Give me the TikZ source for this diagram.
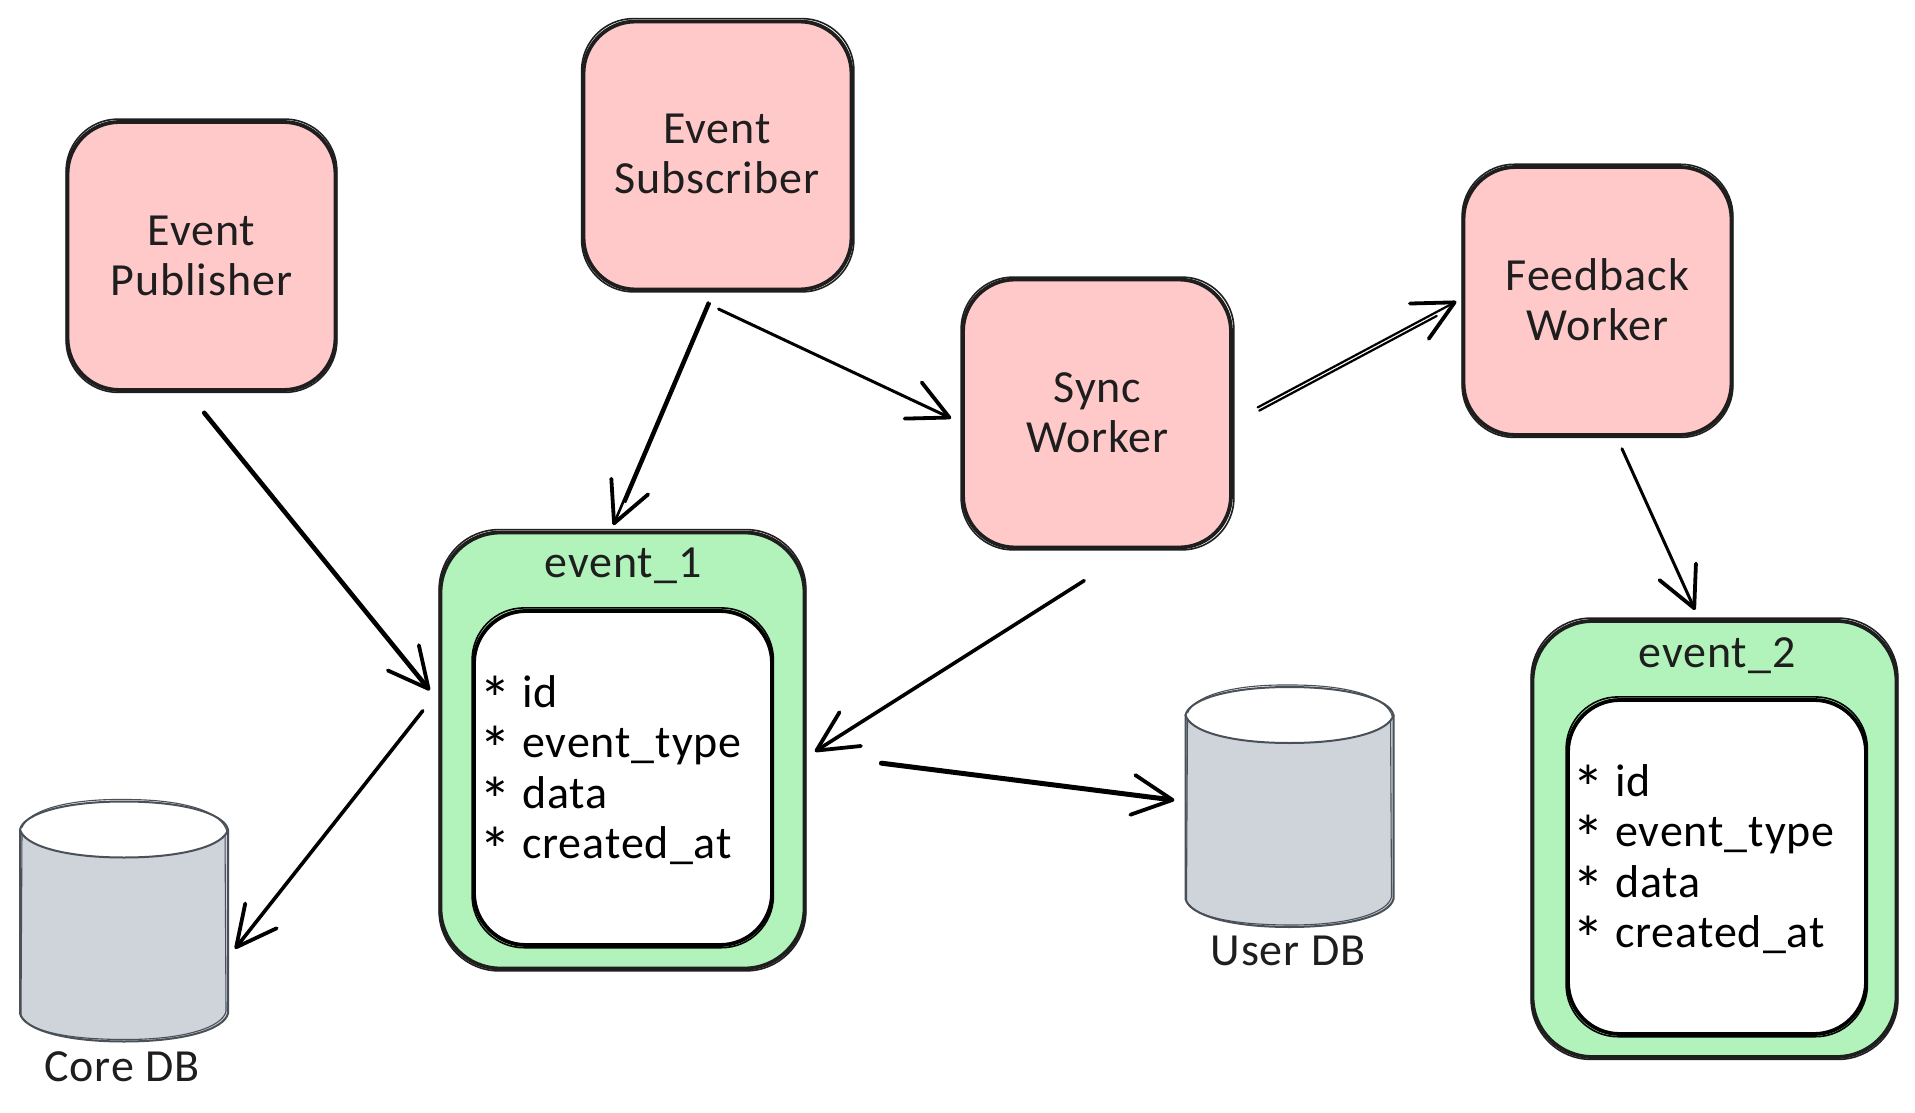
\documentclass[tikz,border=0pt]{standalone}
\usepackage{fontspec}
\setmainfont[LetterSpace=2]{Carlito}
\usetikzlibrary{arrows.meta}
\definecolor{ink}{HTML}{1E1E1E}
\definecolor{pinkfill}{HTML}{FFC9C9}
\definecolor{greenfill}{HTML}{B2F2BB}
\definecolor{dbfill}{HTML}{CED4DA}
\definecolor{dbline}{HTML}{495057}
\tikzset{
  x=1pt,y=-1pt,
  handtext/.style={font=\fontsize{46}{50.5}\selectfont,text=ink,align=center,inner sep=0pt},
  service/.style={rectangle,rounded corners=52pt,draw=ink,line width=3.8pt,fill=pinkfill,minimum width=268pt,minimum height=268pt,inner sep=0pt},
  topic/.style={rectangle,rounded corners=60pt,draw=ink,line width=3.8pt,fill=greenfill,minimum width=364pt,minimum height=436pt,inner sep=0pt},
  fieldbox/.style={rectangle,rounded corners=52pt,draw=black,line width=3.8pt,fill=white,minimum width=298pt,minimum height=334pt,inner sep=0pt},
  fieldtext/.style={handtext,text=black,align=left},
  dbanchor/.style={rectangle,inner sep=0pt,minimum width=208pt,minimum height=240pt},
  arrowline/.style={draw=black,line cap=round,line join=round,-{Straight Barb[length=40pt,width=40pt,line width=3.8pt,round]}},
  secondstroke/.style={draw=black,line cap=round},
  wobble/.style={draw=ink,line width=1.6pt,rounded corners=#1,fill=none},
}
\newcommand{\starmark}{\makebox[43pt][l]{\smash{\fontsize{64}{50}\selectfont\raisebox{-14pt}{*}}}}
\newcommand{\fieldlist}{\starmark id\\\starmark event\_type\\\starmark data\\\starmark created\_at}
\newcommand{\cylinderat}[1]{%
  \begin{scope}[shift={(#1.center)}]
    \fill[dbfill] (-104,-92) -- (-104,92) .. controls (-100,108) and (-60,120) .. (0,120) .. controls (60,120) and (100,108) .. (104,92) -- (104,-92) -- cycle;
    \draw[dbline,line width=2pt,line join=round] (-104,-92) -- (-104,92) .. controls (-100,108) and (-60,120) .. (0,120) .. controls (60,120) and (100,108) .. (104,92) -- (104,-92);
    \draw[dbline,line width=1.1pt] (-102,-90) -- (-103,94) .. controls (-96,109) and (-60,118) .. (2,118) .. controls (60,118) and (98,106) .. (102,90) -- (101,-94);
    \draw[dbline,line width=2pt,fill=white] (-104,-92) .. controls (-100,-108) and (-60,-120) .. (0,-120) .. controls (60,-120) and (100,-108) .. (104,-92) .. controls (100,-76) and (60,-64) .. (0,-64) .. controls (-60,-64) and (-100,-76) .. (-104,-92) -- cycle;
    \draw[dbline,line width=1.1pt] (-102,-94) .. controls (-96,-110) and (-60,-123) .. (2,-122) .. controls (60,-122) and (98,-110) .. (103,-90);
  \end{scope}}
\begin{document}
\begin{tikzpicture}
  \useasboundingbox (0,0) rectangle (1915,1113);
  % services
  \node[service] (pub) at (201.5,256) {};
  \node[service] (sub) at (717.5,155.5) {};
  \node[service] (sync) at (1097,413.5) {};
  \node[service] (feed) at (1597.5,301) {};
  \node[handtext] (pubtext) at (201.5,255.8) {Event\\Publisher};
  \node[handtext] (subtext) at (717,153.7) {Event\\Subscriber};
  \node[handtext] (synctext) at (1097.5,412.8) {Sync\\Worker};
  \node[handtext] (feedtext) at (1597.5,299.8) {Feedback\\Worker};
  \draw[wobble=52pt] ([shift={(0.5,-1)}]pub.north west) rectangle ([shift={(-0.5,0.5)}]pub.south east);
  \draw[wobble=52pt] ([shift={(0,-1)}]sub.north west) rectangle ([shift={(0.5,0.5)}]sub.south east);
  \draw[wobble=52pt] ([shift={(0,-0.5)}]sync.north west) rectangle ([shift={(1,0.5)}]sync.south east);
  \draw[wobble=52pt] ([shift={(0.5,-0.8)}]feed.north west) rectangle ([shift={(-0.5,0.5)}]feed.south east);
  % topics
  \node[topic] (evone) at (622.5,750.5) {};
  \node[fieldbox] (evonebox) at (623,778) {};
  \node[handtext] (evonetitle) at (623,566) {event\_1};
  \node[fieldtext,anchor=west] (evonefields) at (479,770) {\fieldlist};
  \node[topic] (evtwo) at (1714.5,839) {};
  \node[fieldbox] (evtwobox) at (1717,867) {};
  \node[handtext] (evtwotitle) at (1717,656) {event\_2};
  \node[fieldtext,anchor=west] (evtwofields) at (1572,859) {\fieldlist};
  \draw[wobble=60pt] ([shift={(0.5,-1)}]evone.north west) rectangle ([shift={(-0.5,0.5)}]evone.south east);
  \draw[wobble=52pt,draw=black] ([shift={(0,-1.2)}]evonebox.north west) rectangle ([shift={(-0.5,0.8)}]evonebox.south east);
  \draw[wobble=60pt] ([shift={(0.5,-1)}]evtwo.north west) rectangle ([shift={(-0.5,0.5)}]evtwo.south east);
  \draw[wobble=52pt,draw=black] ([shift={(0,-1.2)}]evtwobox.north west) rectangle ([shift={(-0.5,0.8)}]evtwobox.south east);
  % databases
  \node[dbanchor] (core) at (124,921.5) {};
  \node[dbanchor,minimum height=244pt] (user) at (1289.5,807) {};
  \cylinderat{core}
  \cylinderat{user}
  \node[handtext] (corelabel) at (122,1067) {Core DB};
  \node[handtext] (userlabel) at (1288,951) {User DB};
  % connectors
  \draw[arrowline,line width=4.6pt,shorten <=27pt,shorten >=14pt] (pub.264) -- (evone.165.9);
  \draw[arrowline,line width=2.6pt,shorten <=12pt,shorten >=6pt] (sub.268.4) -- (evone.93.8);
  \draw[secondstroke,line width=2.6pt,shorten <=14pt,shorten >=30pt,transform canvas={xshift=2.5pt,yshift=1pt}] (sub.268.4) -- (evone.93.8);
  \draw[arrowline,line width=3pt,shorten <=41.4pt,shorten >=11pt] (sub.255.9) -- (sync.184.8);
  \draw[arrowline,line width=3.6pt,shorten <=58.3pt,shorten >=10pt] (sync.285.4) -- (evone.358.9);
  \draw[arrowline,line width=3.6pt,shorten <=25.5pt,shorten >=11pt] (evone.162.9) -- (core.341.2);
  \draw[arrowline,line width=5pt,shorten <=75.6pt,shorten >=11pt] (evone.359) -- (user.177.3);
  \draw[arrowline,line width=2.2pt,shorten <=28pt,shorten >=6pt] (sync.357.8) -- (feed.179.8);
  \draw[secondstroke,line width=2.2pt,shorten <=28pt,shorten >=30pt,transform canvas={xshift=1.6pt,yshift=-3.2pt}] (sync.357.8) -- (feed.179.8);
  \draw[arrowline,line width=3pt,shorten <=13pt,shorten >=10pt] (feed.278.2) -- (evtwo.94.2);
\end{tikzpicture}
\end{document}
